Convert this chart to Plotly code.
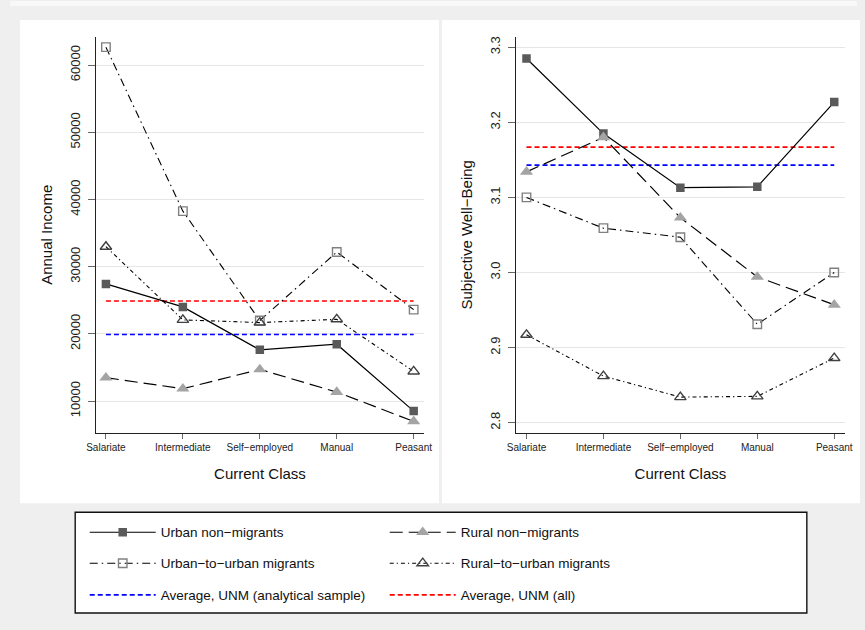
import plotly.graph_objects as go

W, H = 865, 630
# horizontal compensation for the capture's slight horizontal squeeze
S = 0.977
CX = 432.5


def px(x):
    return (CX + (x - CX) / S) / W


def py(y):
    return 1 - y / H


classes = ["Salariate", "Intermediate", "Self\u2212employed", "Manual", "Peasant"]

income_unm = [27430, 24010, 17620, 18460, 8510]
income_rnm = [13480, 11840, 14710, 11340, 6980]
income_uum = [62670, 38260, 21980, 32180, 23610]
income_rum = [32970, 22080, 21680, 22170, 14410]
income_avg_sample = 19900
income_avg_all = 24900

swb_unm = [3.285, 3.185, 3.113, 3.114, 3.227]
swb_rnm = [3.134, 3.180, 3.073, 2.994, 2.957]
swb_uum = [3.100, 3.059, 3.047, 2.931, 3.000]
swb_rum = [2.917, 2.862, 2.834, 2.835, 2.886]
swb_avg_sample = 3.143
swb_avg_all = 3.167

income_ticks = [10000, 20000, 30000, 40000, 50000, 60000]
swb_ticks = [2.8, 2.9, 3.0, 3.1, 3.2, 3.3]

names = ["Urban non\u2212migrants", "Rural non\u2212migrants",
         "Urban\u2212to\u2212urban migrants", "Rural\u2212to\u2212urban migrants",
         "Average, UNM (analytical sample)", "Average, UNM (all)"]

FONT = "Liberation Sans, Arial, sans-serif"

styles = [
    dict(line=dict(color="black", width=1.2, dash="solid"),
         marker=dict(symbol="square", size=8.5, color="#5a5a5a", line=dict(width=0))),
    dict(line=dict(color="black", width=1.2, dash="13px,6px"),
         marker=dict(symbol="triangle-up", size=11.5, color="#a4a4a4", line=dict(width=0))),
    dict(line=dict(color="black", width=1.1, dash="8px,4px,1.5px,4px"),
         marker=dict(symbol="square-open", size=8.5, color="#808080", line=dict(width=1.4))),
    dict(line=dict(color="black", width=1.1, dash="4px,3px,1.2px,3px"),
         marker=dict(symbol="triangle-up-open", size=10, color="#404040", line=dict(width=1.4))),
    dict(line=dict(color="#0000ff", width=1.6, dash="5px,3px")),
    dict(line=dict(color="#ff0000", width=1.6, dash="5px,3px")),
]
legend_ids = ["legend", "legend", "legend2", "legend2", "legend3", "legend3"]

fig = go.Figure()

panels = [
    ("x", "y", [income_unm, income_rnm, income_uum, income_rum],
     income_avg_sample, income_avg_all, True),
    ("x2", "y2", [swb_unm, swb_rnm, swb_uum, swb_rum],
     swb_avg_sample, swb_avg_all, False),
]

for xa, ya, series, avg_s, avg_a, show in panels:
    for k, val in ((4, avg_s), (5, avg_a)):
        fig.add_trace(go.Scatter(
            x=classes, y=[val] * len(classes), mode="lines", name=names[k],
            line=styles[k]["line"], xaxis=xa, yaxis=ya,
            showlegend=show, legend=legend_ids[k], hoverinfo="skip"))
    for k, vals in enumerate(series):
        fig.add_trace(go.Scatter(
            x=classes, y=vals, mode="lines+markers", name=names[k],
            line=styles[k]["line"], marker=styles[k]["marker"],
            xaxis=xa, yaxis=ya, showlegend=show, legend=legend_ids[k]))

xcommon = dict(type="category", showline=True, linecolor="#222222", linewidth=1,
               ticks="outside", ticklen=5, tickcolor="#666666", tickwidth=1,
               tickfont=dict(size=10, family=FONT, color="#222222"),
               showgrid=False, zeroline=False, fixedrange=True,
               title=dict(text="Current Class", font=dict(size=15, family=FONT, color="#111111"),
                          standoff=16))
ycommon = dict(showline=True, linecolor="#222222", linewidth=1,
               ticks="outside", ticklen=7, tickcolor="#666666", tickwidth=1,
               tickangle=-90, tickfont=dict(size=13, family=FONT, color="#222222"),
               ticklabelstandoff=3,
               showgrid=True, gridcolor="#e6e6e6", gridwidth=1,
               zeroline=False, fixedrange=True)

fig.update_layout(
    width=W, height=H, margin=dict(l=0, r=0, t=0, b=0), autosize=False,
    paper_bgcolor="#efefef", plot_bgcolor="rgba(0,0,0,0)",
    font=dict(family=FONT, color="#111111"),
    xaxis=dict(xcommon, domain=[px(96), px(422.7)], anchor="y", range=[-0.126, 4.13]),
    yaxis=dict(ycommon, domain=[py(432.3), py(36)], anchor="x", range=[5305, 64190],
               tickvals=income_ticks, tickformat="d",
               title=dict(text="Annual Income", font=dict(size=15, family=FONT, color="#111111"),
                          standoff=11)),
    xaxis2=dict(xcommon, domain=[px(515), px(842.7)], anchor="y2", range=[-0.134, 4.135]),
    yaxis2=dict(ycommon, domain=[py(432.3), py(36)], anchor="x2", range=[2.7867, 3.3137],
                tickvals=swb_ticks, tickformat=".1f",
                title=dict(text="Subjective Well\u2212Being", font=dict(size=15, family=FONT, color="#111111"),
                           standoff=11)),
    showlegend=True,
)

leg_common = dict(orientation="h", xanchor="left", yanchor="middle",
                  bgcolor="rgba(0,0,0,0)", borderwidth=0, entrywidth=219, itemwidth=66,
                  font=dict(size=13.5, family=FONT, color="#111111"),
                  itemclick=False, itemdoubleclick=False, traceorder="normal")
fig.update_layout(
    legend=dict(leg_common, x=px(84.5), y=py(532.3)),
    legend2=dict(leg_common, x=px(84.5), y=py(563.3)),
    legend3=dict(leg_common, x=px(84.5), y=py(595)),
)

shapes = [
    dict(type="rect", xref="paper", yref="paper", x0=0, x1=max(px(6), 0.0001), y0=0, y1=1,
         fillcolor="#f8f8f8", line=dict(width=0), layer="below"),
    dict(type="rect", xref="paper", yref="paper", x0=0, x1=1, y0=py(5), y1=1,
         fillcolor="#f8f8f8", line=dict(width=0), layer="below"),
    dict(type="rect", xref="paper", yref="paper", x0=px(20), x1=px(438), y0=py(503), y1=py(19),
         fillcolor="white", line=dict(width=0), layer="below"),
    dict(type="rect", xref="paper", yref="paper", x0=px(441), x1=px(858), y0=py(503), y1=py(19),
         fillcolor="white", line=dict(width=0), layer="below"),
    dict(type="rect", xref="paper", yref="paper", x0=px(75), x1=px(805), y0=py(613), y1=py(512),
         fillcolor="white", line=dict(width=1.4, color="#111111"), layer="below"),
]
fig.update_layout(shapes=shapes)

post = ("document.documentElement.style.margin='0';"
        "document.documentElement.style.overflow='hidden';"
        "document.documentElement.style.background='#efefef';"
        "document.body.style.margin='0';"
        "document.body.style.overflow='hidden';"
        "document.body.style.background='#efefef';")
fig.write_html("out.html", post_script=post,
               config={"displayModeBar": False, "responsive": False})
